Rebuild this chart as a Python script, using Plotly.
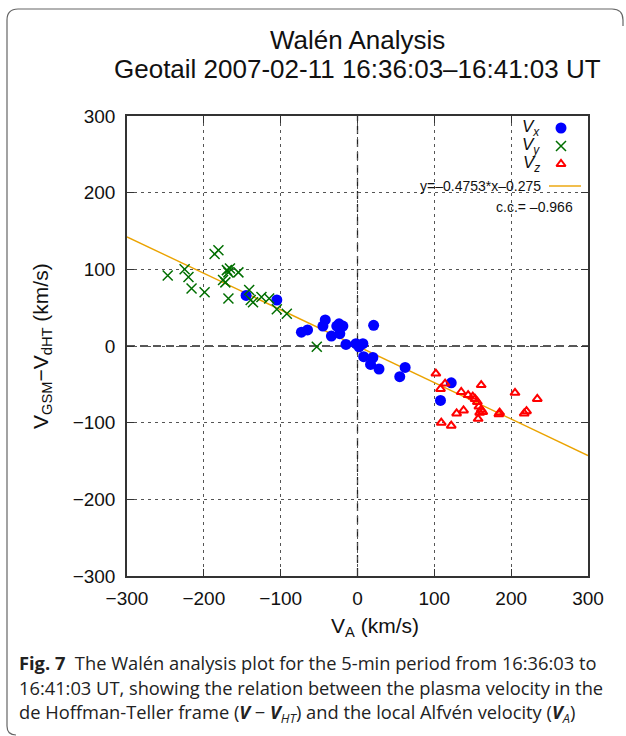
import plotly.graph_objects as go

# ---- data ----
vx_alfven = [-145, -105, -73, -65, -45, -42, -34, -27, -24, -19, -23, -15, -2, 7, 2, 21, 8, 20, 17, 28, 62, 55, 122, 108]
vx_dv = [66, 60, 18, 21, 26, 34, 13, 26, 29, 26, 16, 2, 3, 3, -1, 27, -14, -15, -24, -30, -28, -40, -48, -71]

vy_alfven = [-247, -225, -220, -216, -199, -186, -181, -170, -166, -168, -155, -175, -172, -168, -141, -139, -136, -125, -115, -105, -92, -53]
vy_dv = [92, 100, 90, 75, 70, 120, 125, 99, 101, 96, 96, 86, 83, 62, 73, 60, 57, 64, 62, 48, 42, -1]

vz_alfven = [102, 114, 108, 161, 135, 144, 150, 153, 156, 158, 161, 163, 159, 157, 129, 138, 109, 122, 185, 184, 205, 234, 220, 217]
vz_dv = [-36, -49, -56, -51, -60, -64, -66, -69, -73, -79, -83, -86, -87, -95, -88, -84, -100, -104, -87, -89, -61, -69, -85, -88]

fit_slope = -0.4753
fit_intercept = -0.275
fit_x = [-300, 300]
cc = -0.966

tick_vals = [-300, -200, -100, 0, 100, 200, 300]
tick_text = ["\u2212300", "\u2212200", "\u2212100", "0", "100", "200", "300"]

# ---- geometry ----
W, H = 626, 736
L, R, T, B = 127, 588, 116, 576


def px(x):
    return (x - L) / (R - L)


def py(y):
    return (B - y) / (B - T)


FONT = "Liberation Sans, Arial, sans-serif"
CAP = "Open Sans, Noto Sans, sans-serif"

fig = go.Figure()

fig.add_trace(go.Scatter(
    x=fit_x, y=[fit_slope * v + fit_intercept for v in fit_x],
    mode="lines", line=dict(color="#eba300", width=1.4),
    showlegend=False, hoverinfo="skip"))

fig.add_trace(go.Scatter(
    x=vx_alfven, y=vx_dv, mode="markers",
    marker=dict(symbol="circle", size=11, color="#0000ff", line=dict(width=0)),
    showlegend=False))
fig.add_trace(go.Scatter(
    x=vy_alfven, y=vy_dv, mode="markers",
    marker=dict(symbol="x-thin-open", size=10, color="#006e00",
                line=dict(width=1.5, color="#006e00")),
    showlegend=False))
fig.add_trace(go.Scatter(
    x=vz_alfven, y=vz_dv, mode="markers",
    marker=dict(symbol="triangle-up-open", size=8, color="#ff0000",
                line=dict(width=2, color="#ff0000")),
    showlegend=False))

axis_common = dict(
    range=[-300, 300], tickvals=tick_vals, ticktext=tick_text,
    showgrid=True, gridcolor="#555555", griddash="3px,4px", gridwidth=1,
    zeroline=False, showline=True, linecolor="#333333", linewidth=1.5,
    mirror="ticks", ticks="inside", ticklen=7, tickcolor="#333333",
    tickfont=dict(family=FONT, size=19, color="#111111"),
)
fig.update_xaxes(**axis_common, ticklabelstandoff=4)
fig.update_yaxes(**axis_common, ticklabelstandoff=6)

shapes = []
# zero lines (long dashes)
shapes.append(dict(type="line", xref="x", yref="y", x0=-300, x1=300, y0=0, y1=0,
                   line=dict(color="#222222", width=1.3, dash="8px,5px"), layer="below"))
shapes.append(dict(type="line", xref="x", yref="y", x0=0, x1=0, y0=-300, y1=300,
                   line=dict(color="#222222", width=1.3, dash="8px,5px"), layer="below"))
# legend line sample
shapes.append(dict(type="line", xref="paper", yref="paper", x0=px(549), x1=px(581),
                   y0=py(186), y1=py(186), line=dict(color="#eba300", width=1.4)))
# outer rounded frame
path = (f"M {px(16)},{py(735)} Q {px(7)},{py(735)} {px(7)},{py(726)} "
        f"L {px(7)},{py(20)} Q {px(7)},{py(9)} {px(18)},{py(9)} "
        f"L {px(612)},{py(9)} Q {px(623)},{py(9)} {px(623)},{py(20)} L {px(623)},{py(26)}")
shapes.append(dict(type="path", xref="paper", yref="paper", path=path,
                   line=dict(color="#666666", width=1.2)))

ann = []
# title
ann.append(dict(text="Walén Analysis", x=px(357), y=py(40), xref="paper", yref="paper",
                showarrow=False, xanchor="center", yanchor="middle",
                font=dict(family=FONT, size=26, color="#111111")))
ann.append(dict(text="Geotail 2007-02-11 16:36:03\u201316:41:03 UT", x=px(357), y=py(69),
                xref="paper", yref="paper", showarrow=False, xanchor="center", yanchor="middle",
                font=dict(family=FONT, size=26, color="#111111")))
# axis titles
ann.append(dict(text="V<sub>A</sub> (km/s)", x=px(375), y=py(627), xref="paper", yref="paper",
                showarrow=False, xanchor="center", yanchor="middle",
                font=dict(family=FONT, size=21, color="#111111")))
ann.append(dict(text="V<sub>GSM</sub>\u2212V<sub>dHT</sub> (km/s)", x=px(42), y=py(346),
                xref="paper", yref="paper", showarrow=False, xanchor="center", yanchor="middle",
                textangle=-90, font=dict(family=FONT, size=21, color="#111111")))
# legend texts
leg_rows = [("<i>V<sub>x</sub></i>", 128), ("<i>V<sub>y</sub></i>", 146), ("<i>V<sub>z</sub></i>", 164)]
for txt, yy in leg_rows:
    ann.append(dict(text=txt, x=px(542), y=py(yy), xref="paper", yref="paper",
                    showarrow=False, xanchor="right", yanchor="middle",
                    font=dict(family=FONT, size=17, color="#111111")))
ann.append(dict(text=f"y=\u2013{abs(fit_slope)}*x\u2013{abs(fit_intercept)}", x=px(543), y=py(186),
                xref="paper", yref="paper", showarrow=False, xanchor="right", yanchor="middle",
                font=dict(family=FONT, size=14, color="#111111")))
ann.append(dict(text=f"c.c.= \u2013{abs(cc)}", x=px(575), y=py(207),
                xref="paper", yref="paper", showarrow=False, xanchor="right", yanchor="middle",
                font=dict(family=FONT, size=14, color="#111111")))
# caption
cap_lines = [
    "<b>Fig. 7</b>  The Walén analysis plot for the 5-min period from 16:36:03 to",
    "16:41:03 UT, showing the relation between the plasma velocity in the",
    "de Hoffman-Teller frame (<b><i>V</i></b> \u2212 <b><i>V</i></b><sub><i>HT</i></sub>) and the local Alfvén velocity (<b><i>V</i></b><sub><i>A</i></sub>)",
]
for i, line in enumerate(cap_lines):
    ann.append(dict(text=line, x=px(17), y=py(662 + 25.5 * i), xref="paper", yref="paper",
                    showarrow=False, xanchor="left", yanchor="middle",
                    font=dict(family=CAP, size=18.3, color="#222222")))

fig.update_layout(
    width=W, height=H,
    margin=dict(l=L, r=W - R, t=T, b=H - B, pad=0),
    paper_bgcolor="white", plot_bgcolor="white",
    shapes=shapes, annotations=ann, showlegend=False,
)

# legend markers placed inside the plot area
leg_x = (561 - L) / (R - L) * 600 - 300
fig.add_trace(go.Scatter(x=[leg_x], y=[(B - 128) / (B - T) * 600 - 300], mode="markers",
                         marker=dict(symbol="circle", size=11, color="#0000ff"),
                         showlegend=False, hoverinfo="skip", cliponaxis=False))
fig.add_trace(go.Scatter(x=[leg_x], y=[(B - 146) / (B - T) * 600 - 300], mode="markers",
                         marker=dict(symbol="x-thin-open", size=10, color="#006e00",
                                     line=dict(width=1.5, color="#006e00")),
                         showlegend=False, hoverinfo="skip", cliponaxis=False))
fig.add_trace(go.Scatter(x=[leg_x], y=[(B - 164) / (B - T) * 600 - 300], mode="markers",
                         marker=dict(symbol="triangle-up-open", size=8, color="#ff0000",
                                     line=dict(width=2, color="#ff0000")),
                         showlegend=False, hoverinfo="skip", cliponaxis=False))

fig.write_html("out.html")
